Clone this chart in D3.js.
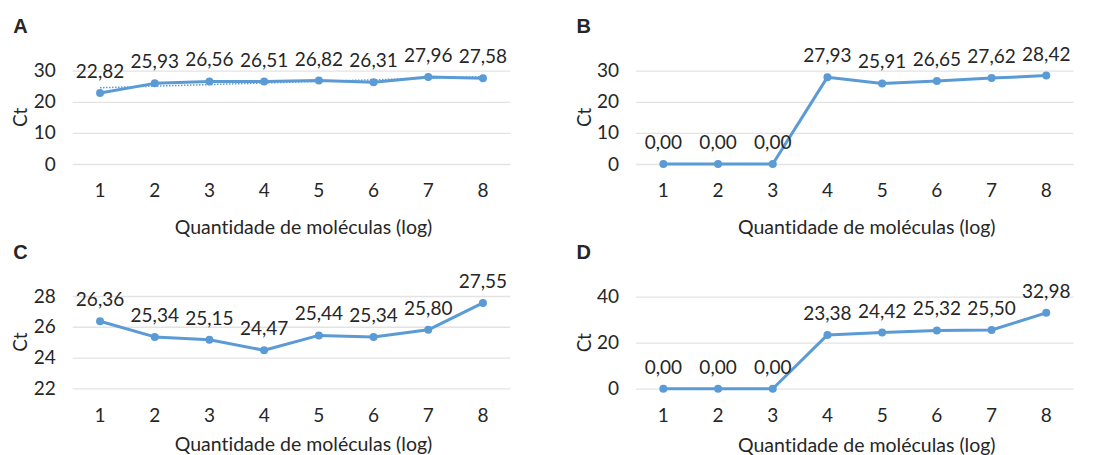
<!DOCTYPE html>
<html lang="pt">
<head>
    <meta charset="UTF-8">
    <script src="https://cdnjs.cloudflare.com/ajax/libs/d3/7.8.5/d3.min.js"></script>
    <style>
        body { margin: 0; background: #fff; }
        text { font-family: Lato, sans-serif; fill: #262626; font-variant-ligatures: none; }
    </style>
</head>
<body>
    <svg id="chart" width="1107" height="455"></svg>
    <script>
        // data
        let categories = ["1", "2", "3", "4", "5", "6", "7", "8"];
        let ctA = [22.82, 25.93, 26.56, 26.51, 26.82, 26.31, 27.96, 27.58];
        let ctB = [0, 0, 0, 27.93, 25.91, 26.65, 27.62, 28.42];
        let ctC = [26.36, 25.34, 25.15, 24.47, 25.44, 25.34, 25.80, 27.55];
        let ctD = [0, 0, 0, 23.38, 24.42, 25.32, 25.50, 32.98];
        let ticksA = [0, 10, 20, 30];
        let ticksB = [0, 10, 20, 30];
        let ticksC = [22, 24, 26, 28];
        let ticksD = [0, 20, 40];
        let panelNames = ["A", "B", "C", "D"];

        const blue = "#5b9bd5";
        const fs = "19px";
        const svg = d3.select("#chart");
        const fmt = v => v.toFixed(2).replace(".", ",");

        // plot areas
        let panels = [
            {name: panelNames[0], values: ctA, ticks: ticksA, x: 72.7, y: 70.7, h: 93.3, tickY: 20, titleY: 63, trend: true},
            {name: panelNames[1], values: ctB, ticks: ticksB, x: 636, y: 70.7, h: 93.3, tickY: 20, titleY: 63},
            {name: panelNames[2], values: ctC, ticks: ticksC, x: 72.7, y: 296, h: 92.3, tickY: 20, titleY: 56},
            {name: panelNames[3], values: ctD, ticks: ticksD, x: 636, y: 296.7, h: 92, tickY: 20, titleY: 56}
        ];
        const w = 437.6;

        panels.forEach(p => {
            let g = svg.append("g").attr("transform", `translate(${p.x},${p.y})`);
            let xScale = d3.scaleBand().domain(categories).range([0, w]);
            let yScale = d3.scaleLinear().domain(d3.extent(p.ticks)).range([p.h, 0]);
            let cx = (d, i) => xScale(categories[i]) + xScale.bandwidth() / 2;

            let yAxis = d3.axisLeft(yScale).tickValues(p.ticks).tickFormat(d3.format("d"))
                .tickSize(-w).tickPadding(17);
            let yG = g.append("g").call(yAxis);
            yG.select(".domain").remove();
            yG.selectAll("line").attr("stroke", "#e3e3e3").attr("stroke-width", 1.3);
            yG.selectAll("text").style("font-size", fs).attr("fill", "#262626");

            let xAxis = d3.axisBottom(xScale).tickSize(0).tickPadding(p.tickY);
            let xG = g.append("g").attr("transform", `translate(0,${p.h})`).call(xAxis);
            xG.select(".domain").remove();
            xG.selectAll("text").style("font-size", fs).attr("fill", "#262626");

            if (p.trend) {
                // linear trendline (least squares)
                let xs = p.values.map((d, i) => i + 1);
                let mx = d3.mean(xs), my = d3.mean(p.values);
                let slope = d3.sum(xs, (x, i) => (x - mx) * (p.values[i] - my)) / d3.sum(xs, x => (x - mx) ** 2);
                let icpt = my - slope * mx;
                let tr = p.values.map((d, i) => icpt + slope * (i + 1));
                g.append("path")
                    .datum(tr)
                    .attr("fill", "none")
                    .attr("stroke", blue)
                    .attr("stroke-width", 1.5)
                    .attr("stroke-dasharray", "1.5,1.5")
                    .attr("d", d3.line().x(cx).y(d => yScale(d)));
            }

            g.append("path")
                .datum(p.values)
                .attr("fill", "none")
                .attr("stroke", blue)
                .attr("stroke-width", 3)
                .attr("stroke-linejoin", "round")
                .attr("d", d3.line().x(cx).y(d => yScale(d)));

            g.selectAll("circle")
                .data(p.values)
                .enter()
                .append("circle")
                .attr("r", 4)
                .attr("fill", blue)
                .attr("cx", cx)
                .attr("cy", d => yScale(d));

            g.selectAll(".lbl")
                .data(p.values)
                .enter()
                .append("text")
                .attr("class", "lbl")
                .attr("x", cx)
                .attr("y", d => yScale(d) - 15)
                .attr("text-anchor", "middle")
                .style("font-size", fs)
                .text(fmt);

            g.append("text")
                .attr("transform", `translate(${-52},${p.h / 2}) rotate(-90)`)
                .attr("text-anchor", "middle")
                .attr("dy", "0.35em")
                .style("font-size", fs)
                .text("Ct");

            g.append("text")
                .attr("x", w / 2 + 12)
                .attr("y", p.h + p.titleY)
                .attr("text-anchor", "middle")
                .attr("dy", "0.35em")
                .style("font-size", "19.5px")
                .text("Quantidade de moléculas (log)");

            g.append("text")
                .attr("x", -59.5)
                .attr("y", -37.5)
                .style("font-family", "'Liberation Sans', sans-serif")
                .style("font-size", "20px")
                .style("font-weight", "bold")
                .text(p.name);
        });
    </script>
</body>
</html>
